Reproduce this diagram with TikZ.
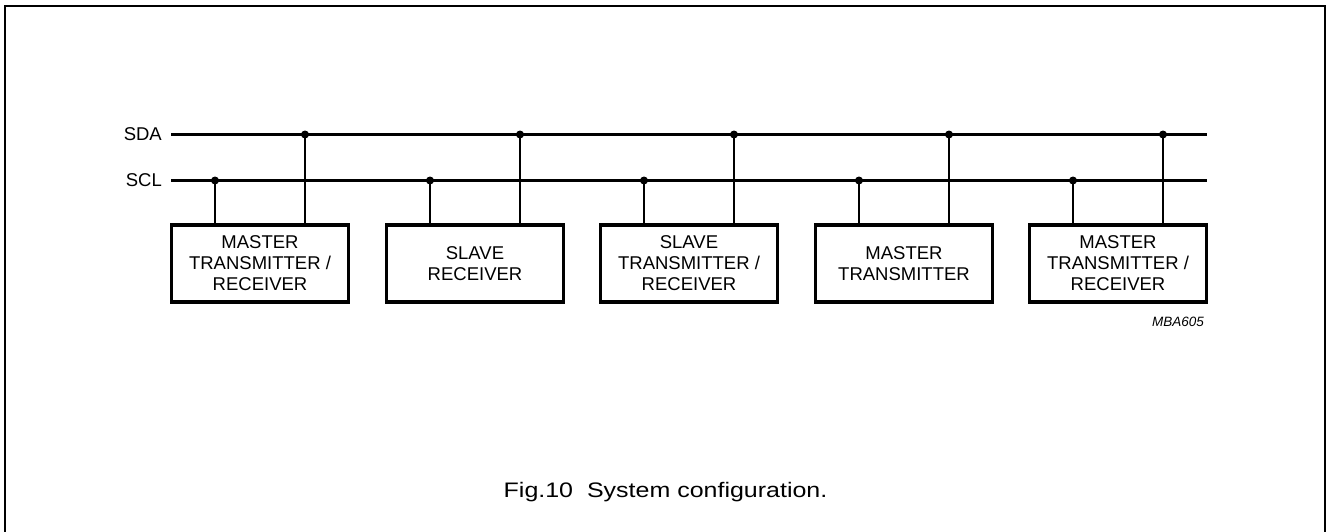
\documentclass[tikz,border=0pt]{standalone}
\usepackage{fontspec}
\setmainfont{Liberation Sans}
\begin{document}
\begin{tikzpicture}[x=1pt,y=-1pt,
  bus/.style={line width=3pt},
  tap/.style={line width=2pt},
  dev/.style={draw,line width=3.5pt,minimum width=177pt,minimum height=77pt,align=center,inner sep=0pt,font=\fontsize{18.5}{21}\selectfont},
  lbl/.style={font=\fontsize{18.5}{21}\selectfont,inner sep=0pt},
  dot/.style={circle,fill,inner sep=0pt,minimum size=8pt}]
\useasboundingbox (0,0) rectangle (1327,531);
\draw[line width=2.8pt] (5,540) -- (5,6) -- (1325,6) -- (1325,540);
% bus ends
\coordinate (sdaL) at (171,134.5);
\coordinate (sdaR) at (1207,134.5);
\coordinate (sclL) at (171,180.5);
\coordinate (sclR) at (1207,180.5);
\node[lbl,anchor=east] (sda) at (162,134.5) {SDA};
\node[lbl,anchor=east] (scl) at (162,180.5) {SCL};
\draw[bus] (sdaL) -- (sdaR);
\draw[bus] (sclL) -- (sclR);
% devices
\foreach \i/\txt in {0/{MASTER\\TRANSMITTER /\\RECEIVER},1/{SLAVE\\RECEIVER},2/{SLAVE\\TRANSMITTER /\\RECEIVER},3/{MASTER\\TRANSMITTER},4/{MASTER\\TRANSMITTER /\\RECEIVER}}{
  \pgfmathsetmacro{\xl}{round(170+214.5*\i)}
  \node[dev] (d\i) at (\xl+90,263.5) {\txt};
  \node[dot] (c\i) at (\xl+45,180.5) {};
  \node[dot] (a\i) at (\xl+135,134.5) {};
  \draw[tap] (c\i.center) -- (c\i.center |- d\i.north);
  \draw[tap] (a\i.center) -- (a\i.center |- d\i.north);
}
\node[font=\fontsize{13.5}{15}\selectfont\itshape,anchor=east,inner sep=0pt] (code) at (1204,322) {MBA605};
\node[font=\fontsize{21}{24}\selectfont,inner sep=0pt] (cap) at (665.5,492) {\scalebox{1.19}[1]{Fig.10\ \ System configuration.}};
\end{tikzpicture}
\end{document}
